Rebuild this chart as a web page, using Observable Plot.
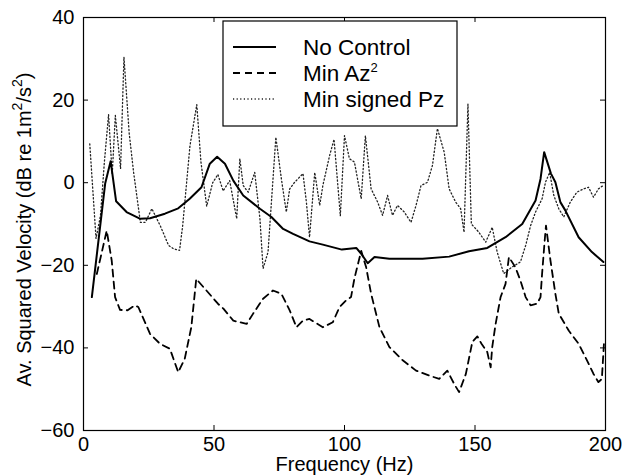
<!DOCTYPE html>
<html><head><meta charset="utf-8">
<script src="https://cdn.jsdelivr.net/npm/d3@7"></script>
<script src="https://cdn.jsdelivr.net/npm/@observablehq/plot@0.6"></script>
<style>body{margin:0;background:#fff;} svg{display:block}</style>
</head><body><div id="chart"></div>
<script>
const seriesNames = ["No Control", "Min Az", "Min signed Pz"];
const xLabel = "Frequency (Hz)";
const yLabelParts = ["Av. Squared Velocity (dB re 1m", "2", "/s", "2", ")"];

const noControlX = [3.2, 8.3, 10.4, 12.5, 16.5, 21.6, 25.5, 31.2, 36.3, 40.7, 45.2, 48.4, 51.2, 54.2, 57.4, 61.2, 67.6, 72.0, 76.5, 80.3, 86.6, 91.7, 99.0, 104.5, 106.4, 108.9, 111.5, 117.2, 129.9, 140.1, 147.7, 154.7, 161.7, 168.1, 173.2, 175.1, 176.5, 179.1, 180.8, 182.7, 184.6, 189.7, 194.8, 199.2];
const noControlY = [-27.7, -0.2, 5.2, -4.5, -7.1, -8.7, -8.6, -7.5, -6.2, -3.9, -1.1, 4.6, 6.3, 4.6, 0.5, -3.1, -6.3, -8.3, -11.2, -12.4, -14.2, -15.0, -16.2, -15.8, -17.2, -19.5, -18.0, -18.4, -18.4, -17.9, -16.6, -15.8, -13.2, -10.0, -4.3, 0.9, 7.4, 2.2, 0.1, -4.7, -6.7, -13.2, -16.8, -19.2];

const minAzX = [5.1, 8.9, 10.8, 12.1, 14.0, 16.9, 19.7, 21.0, 25.5, 29.3, 33.1, 36.3, 38.8, 41.3, 43.2, 47.1, 51.5, 53.6, 57.4, 62.5, 65.0, 68.8, 72.6, 75.8, 79.0, 81.6, 84.1, 86.6, 91.7, 95.5, 98.1, 100.6, 102.5, 103.8, 106.4, 108.3, 110.2, 113.4, 117.2, 122.3, 127.4, 132.4, 136.3, 139.4, 142.0, 143.9, 146.5, 149.0, 150.9, 152.5, 154.7, 156.0, 156.6, 157.9, 159.8, 161.7, 163.0, 165.5, 167.4, 169.4, 171.3, 173.8, 175.1, 175.7, 176.7, 177.2, 178.9, 180.8, 182.1, 185.9, 189.7, 192.9, 195.4, 197.3, 198.6, 199.5];
const minAzY = [-22.1, -11.6, -18.8, -27.7, -30.8, -30.9, -29.7, -30.1, -36.6, -39.0, -40.2, -45.9, -42.6, -35.0, -23.3, -26.1, -29.3, -30.5, -33.4, -34.2, -31.7, -28.1, -26.1, -26.9, -30.9, -35.0, -33.4, -33.0, -35.0, -33.8, -30.1, -28.5, -27.7, -23.2, -16.5, -20.5, -26.9, -35.0, -39.8, -43.0, -45.5, -46.7, -47.5, -45.5, -48.7, -50.7, -46.3, -38.5, -37.2, -39.0, -41.0, -44.7, -39.8, -34.2, -27.7, -24.5, -18.0, -20.5, -23.7, -27.7, -29.7, -29.3, -27.7, -22.1, -14.0, -10.4, -18.8, -26.9, -31.7, -35.8, -39.0, -43.0, -46.3, -48.3, -47.5, -38.0];

const minPzX = [2.4, 4.8, 6.5, 8.0, 9.6, 11.0, 12.2, 14.2, 15.5, 17.5, 19.2, 21.8, 23.7, 26.2, 29.4, 32.6, 34.5, 36.8, 38.0, 40.8, 43.4, 45.0, 47.2, 49.5, 51.5, 53.5, 56.0, 58.7, 59.9, 61.2, 63.1, 65.6, 67.6, 68.8, 70.7, 72.0, 73.7, 75.8, 77.7, 79.0, 80.9, 84.1, 85.4, 86.6, 88.6, 90.5, 91.7, 94.3, 96.0, 98.4, 100.0, 101.9, 103.8, 106.4, 108.0, 110.2, 112.7, 114.6, 116.5, 118.4, 120.3, 122.9, 125.5, 127.4, 129.3, 131.8, 133.7, 135.6, 138.2, 140.1, 142.6, 144.5, 145.8, 147.3, 148.6, 151.5, 154.1, 156.6, 158.5, 161.0, 164.0, 167.4, 169.4, 171.3, 173.2, 175.7, 177.0, 178.6, 180.2, 182.1, 184.0, 186.5, 189.0, 191.6, 193.5, 195.4, 197.3, 199.5];
const minPzY = [9.4, -13.5, -8.0, 5.0, 16.5, 2.0, 16.3, 3.4, 30.4, 12.0, 2.5, -9.6, -9.6, -6.3, -10.4, -15.2, -16.0, -16.4, -10.4, 9.0, 18.9, 5.0, -5.7, 0.0, 2.0, -2.0, 0.5, -8.7, 5.8, -0.7, -2.3, 2.5, -8.7, -20.8, -16.8, -4.7, 11.0, 1.0, -7.1, -1.5, 0.1, 2.2, -4.7, -13.2, 2.5, -5.5, -0.7, 6.6, 10.5, -8.0, 11.4, 5.8, 5.0, -3.9, 11.4, -1.5, -4.7, -7.9, -3.1, -7.9, -5.5, -7.1, -9.6, -5.5, -0.7, 0.1, 4.2, 13.1, 7.4, -1.5, -4.7, -6.3, -12.0, 19.0, -10.0, -12.0, -14.4, -10.8, -16.8, -22.0, -20.5, -19.2, -15.2, -10.4, -7.1, -3.9, 0.1, 2.5, -3.1, -6.3, -8.3, -4.7, -2.3, -1.5, -1.1, -3.5, -1.5, -0.5];

const xTicks = [0, 50, 100, 150, 200];
const yTicks = [-60, -40, -20, 0, 20, 40];

const toRows = (xs, ys, s) => xs.map((x, i) => ({series: s, x, y: ys[i]}));
const solidRows = toRows(noControlX, noControlY, seriesNames[0]);
const dashRows = toRows(minAzX, minAzY, seriesNames[1]);
const dotRows = toRows(minPzX, minPzY, seriesNames[2]);

const W = 629, H = 475, mL = 83, mR = 24, mT = 17, mB = 45;
const pw = W - mL - mR, ph = H - mT - mB, tk = 5;
const font = "'Liberation Sans', Arial, Helvetica, sans-serif";
const styles = [
  {stroke: "#000", strokeWidth: 2, strokeDasharray: null},
  {stroke: "#000", strokeWidth: 1.8, strokeDasharray: "7,5"},
  {stroke: "#222", strokeWidth: 1.3, strokeDasharray: "1.2,2.4"}
];

const plot = Plot.plot({
  width: W, height: H,
  marginLeft: mL, marginRight: mR, marginTop: mT, marginBottom: mB,
  style: {fontFamily: font, fontSize: "20px", color: "#000", background: "#fff"},
  x: {domain: [0, 200]},
  y: {domain: [-60, 40]},
  marks: [
    Plot.line(dotRows, {x: "x", y: "y", ...styles[2]}),
    Plot.line(dashRows, {x: "x", y: "y", ...styles[1]}),
    Plot.line(solidRows, {x: "x", y: "y", ...styles[0]}),
    Plot.ruleX(xTicks, {insetTop: ph - tk, stroke: "#000"}),
    Plot.ruleX(xTicks, {insetBottom: ph - tk, stroke: "#000"}),
    Plot.ruleY(yTicks, {insetRight: pw - tk, stroke: "#000"}),
    Plot.ruleY(yTicks, {insetLeft: pw - tk, stroke: "#000"}),
    Plot.axisX(xTicks, {tickSize: 0, tickPadding: 6, fontSize: 20, label: xLabel, labelAnchor: "center", labelArrow: "none", labelOffset: 40}),
    Plot.axisY(yTicks, {tickSize: 0, tickPadding: 9, fontSize: 20, label: null}),
    Plot.frame({stroke: "#000", strokeWidth: 1.2})
  ]
});
document.getElementById("chart").appendChild(plot);

const svg = d3.select(plot);
// y-axis label with superscripts
const yl = svg.append("text")
  .attr("transform", `translate(31,${mT + ph / 2 + 6}) rotate(-90)`)
  .attr("text-anchor", "middle")
  .attr("font-family", font).attr("font-size", 20).attr("fill", "#000");
yLabelParts.forEach((p, i) => {
  const sup = i === 1 || i === 3;
  yl.append("tspan").text(p)
    .attr("font-size", sup ? 14 : 20)
    .attr("dy", sup ? -9 : (i === 0 ? 0 : 9));
});

// legend
const lg = svg.append("g").attr("text-anchor", "start");
lg.append("rect").attr("x", 223).attr("y", 21).attr("width", 234).attr("height", 105)
  .attr("fill", "#fff").attr("stroke", "#000").attr("stroke-width", 1.2);
seriesNames.forEach((name, i) => {
  const cy = 47 + i * 26;
  const st = styles[i];
  lg.append("line").attr("x1", 233).attr("x2", 276).attr("y1", cy).attr("y2", cy)
    .attr("stroke", st.stroke).attr("stroke-width", st.strokeWidth)
    .attr("stroke-dasharray", st.strokeDasharray);
  const t = lg.append("text").attr("x", 303).attr("y", cy + 8)
    .attr("text-anchor", "start")
    .attr("font-family", font).attr("font-size", 22.5).attr("fill", "#000");
  t.append("tspan").text(name);
  if (i === 1) t.append("tspan").text("2").attr("font-size", 13).attr("dy", -9);
});
</script>
</body></html>
